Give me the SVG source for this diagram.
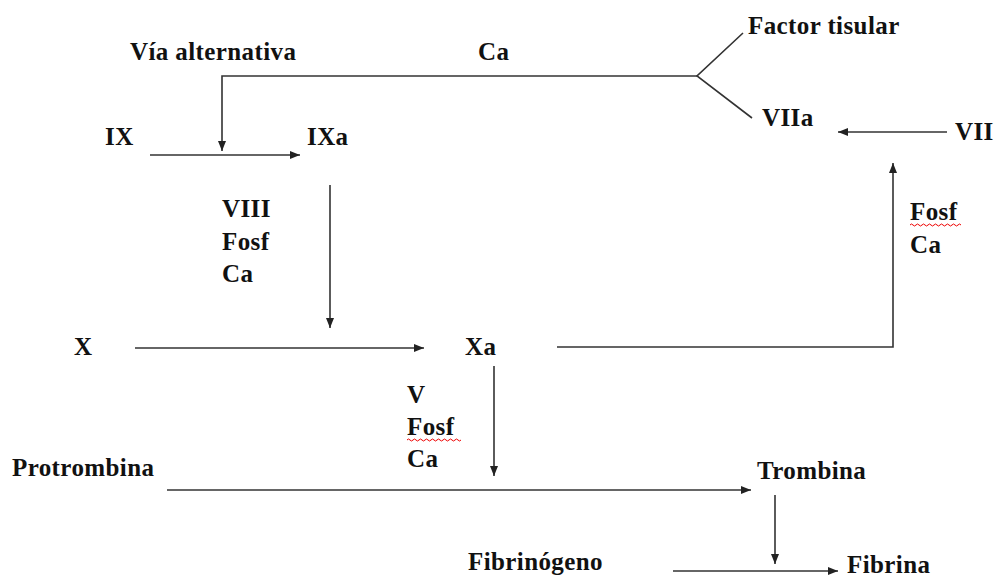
<svg xmlns="http://www.w3.org/2000/svg" width="997" height="576" viewBox="0 0 997 576">
<style>
.c{stroke:#333;stroke-width:1.6;fill:none}
.a{marker-end:url(#ah)}
.sq{stroke:#e00;stroke-width:1;fill:none}
</style>
<defs>
<marker id="ah" viewBox="0 0 10 8" refX="10" refY="4" markerWidth="10" markerHeight="8" markerUnits="userSpaceOnUse" orient="auto">
<path d="M0,0 L10,4 L0,8 Z" fill="#222"/>
</marker>
</defs>
<rect width="997" height="576" fill="#fff"/>
<g id="connectors">
<path class="c a" d="M697,76 H222 V151"/>
<path class="c" d="M743,33 L697,76 L752,118"/>
<path class="c a" d="M150,155 H300"/>
<path class="c a" d="M947,132 H838"/>
<path class="c a" d="M557,347 H893 V163"/>
<path class="c a" d="M330,185 V328"/>
<path class="c a" d="M135,348 H424"/>
<path class="c a" d="M494,366 V476"/>
<path class="c a" d="M167,490 H751"/>
<path class="c a" d="M775,495 V564"/>
<path class="c a" d="M673,571 H838"/>
</g>
<g font-family="Liberation Serif, Times New Roman, serif" font-weight="bold" font-size="25" fill="#111" letter-spacing="0.4">
<g id="via"><text x="130" y="60">Vía alternativa</text></g>
<g id="ca-top"><text x="478" y="60">Ca</text></g>
<g id="factor"><text x="748" y="34">Factor tisular</text></g>
<g id="VIIa"><text x="762" y="126">VIIa</text></g>
<g id="VII"><text x="955" y="140">VII</text></g>
<g id="IX"><text x="105" y="145">IX</text></g>
<g id="IXa"><text x="307" y="145">IXa</text></g>
<g id="cof1"><text x="222" y="217">VIII</text><text x="222" y="250">Fosf</text><text x="222" y="282">Ca</text></g>
<g id="cof2"><text x="910" y="220">Fosf</text><path class="sq" d="M910,225 q1.5,-2 3,0 t3,0 t3,0 t3,0 t3,0 t3,0 t3,0 t3,0 t3,0 t3,0 t3,0 t3,0 t3,0 t3,0 t3,0 t3,0 t3,0"/><text x="910" y="253">Ca</text></g>
<g id="X"><text x="74" y="355">X</text></g>
<g id="Xa"><text x="465" y="355">Xa</text></g>
<g id="cof3"><text x="407" y="403">V</text><text x="407" y="435">Fosf</text><path class="sq" d="M407,440 q1.5,-2 3,0 t3,0 t3,0 t3,0 t3,0 t3,0 t3,0 t3,0 t3,0 t3,0 t3,0 t3,0 t3,0 t3,0 t3,0 t3,0 t3,0 t3,0"/><text x="407" y="467">Ca</text></g>
<g id="protrombina"><text x="12" y="476">Protrombina</text></g>
<g id="trombina"><text x="757" y="479">Trombina</text></g>
<g id="fibrinogeno"><text x="468" y="570">Fibrinógeno</text></g>
<g id="fibrina"><text x="847" y="573">Fibrina</text></g>
</g>
</svg>
